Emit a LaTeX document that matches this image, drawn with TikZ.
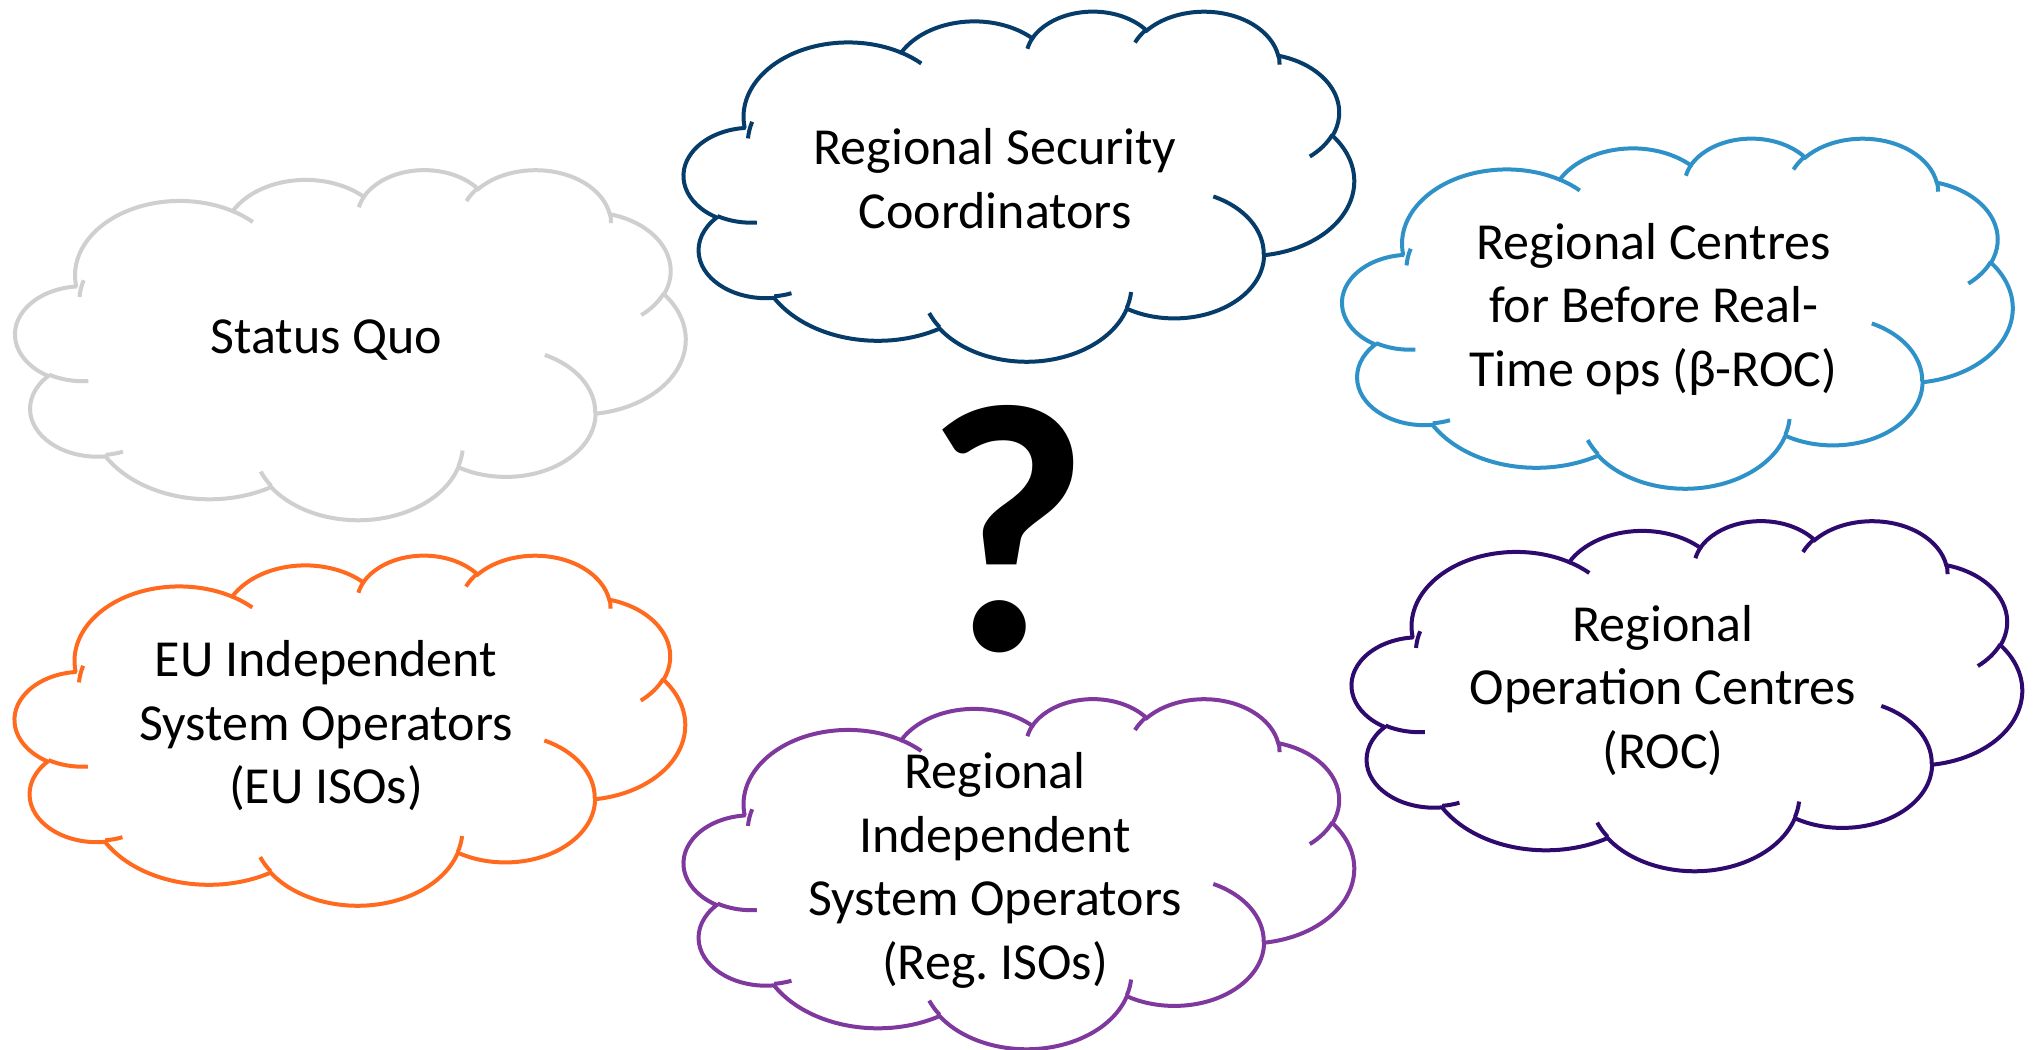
\documentclass[tikz,border=0pt]{standalone}
\usepackage{fontspec}
\setmainfont{Carlito}
\definecolor{sqgray}{RGB}{208,206,206}
\definecolor{rscblue}{RGB}{6,60,106}
\definecolor{rocblue}{RGB}{46,145,200}
\definecolor{isoorange}{RGB}{255,106,30}
\definecolor{regpurple}{RGB}{126,56,158}
\definecolor{rocpurple}{RGB}{46,10,110}
\newcommand\cloudfont{\fontsize{52bp}{63.5bp}\selectfont\frenchspacing}
\newcommand\cstrut{\rule[-14.25bp]{0pt}{63.5bp}}
% elliptic arc, angles measured on the drawn ellipse
\newcommand\harc[4]{arc[x radius=#1, y radius=#2,
  start angle={atan2(#1*sin(#3),#2*cos(#3))},
  delta angle={(atan2(#1*sin(#3+#4),#2*cos(#3+#4))-atan2(#1*sin(#3),#2*cos(#3)))+360*round((#4-(atan2(#1*sin(#3+#4),#2*cos(#3+#4))-atan2(#1*sin(#3),#2*cos(#3))))/360)}]}
\tikzset{
  cloudtext/.style={font=\cloudfont,align=center,inner sep=0pt,
    execute at begin node=\cstrut,execute at end node=\cstrut},
  pics/pptcloud/.style={code={
    \begin{scope}[shift={(-335bp,175bp)},x=15.509bp,y=-8.1019bp,line width=4bp]
      \draw [fill=white] (3.9,14.37)
        \harc{6.753}{9.19}{-190.4875}{123.7805}
        \harc{5.333}{7.267}{-144.1024}{89.9452}
        \harc{4.365}{5.945}{-145.8079}{99.723}
        \harc{4.857}{6.595}{-130.9861}{117.2417}
        \harc{5.333}{7.273}{-78.7089}{109.0269}
        \harc{6.775}{9.22}{-46.2673}{130.269}
        \harc{5.785}{7.867}{0.625}{114.0333}
        \harc{6.752}{9.215}{22.4516}{115.1726}
        \harc{7.72}{10.543}{66.2426}{75.711}
        \harc{4.36}{5.918}{-274.9421}{146.7356}
        \harc{4.345}{5.945}{-246.8285}{152.5189} -- cycle;
      \draw (4.693,26.177) \harc{4.345}{5.945}{86.742}{26.4295}
        (6.928,34.899) \harc{4.36}{5.918}{73.6105}{11.4475}
        (16.478,39.09) \harc{6.752}{9.215}{137.6242}{14.0811}
        (28.827,34.751) \harc{6.752}{9.215}{6.4533}{15.9984}
        (34.129,22.954) \harc{5.785}{7.867}{-70.2924}{70.9174}
        (41.798,15.354) \harc{5.333}{7.273}{30.318}{27.7515}
        (38.324,5.426) \harc{4.857}{6.595}{-13.7443}{14.8589}
        (29.078,3.952) \harc{4.857}{6.595}{-149.1815}{18.1954}
        (22.141,4.72) \harc{4.365}{5.945}{-163.4943}{17.6864}
        (14,5.192) \harc{6.753}{9.19}{-66.707}{12.3194}
        (4.127,15.789) \harc{6.753}{9.19}{-175.1706}{17.2357};
    \end{scope}
  }},
}
\begin{document}
\begin{tikzpicture}
\useasboundingbox (0bp,0bp) rectangle (2035bp,1050bp);
%%
\pic [color=sqgray] at (350.5bp,706bp) {pptcloud};
  \pic [color=rscblue] at (1019bp,864.5bp) {pptcloud};
  \pic [color=rocblue] at (1677.5bp,737.5bp) {pptcloud};
  \pic [color=isoorange] at (350bp,320.5bp) {pptcloud};
  \pic [color=regpurple] at (1019bp,177bp) {pptcloud};
  \pic [color=rocpurple] at (1687bp,355bp) {pptcloud};
  \node (sq) at (326.5bp,714bp) [cloudtext] {Status Quo};
  \node (rsc) at (995bp,864.5bp) [cloudtext] {Regional Security\\Coordinators};
  \node (broc) at (1653.5bp,738bp) [cloudtext] {Regional Centres\\for Before Real-\\Time ops (β-ROC)};
  \node (euiso) at (326bp,320.5bp) [cloudtext] {EU Independent\\System Operators\\(EU ISOs)};
  \node (regiso) at (995bp,177bp) [cloudtext] {Regional\\Independent\\System Operators\\(Reg. ISOs)};
  \node (roc) at (1663bp,356bp) [cloudtext] {Regional\\Operation Centres\\(ROC)};
  \node (qmark) at (1008bp,521bp) [inner sep=0pt,font=\fontsize{355bp}{380bp}\selectfont\bfseries] {?};
%
\end{tikzpicture}
\end{document}
